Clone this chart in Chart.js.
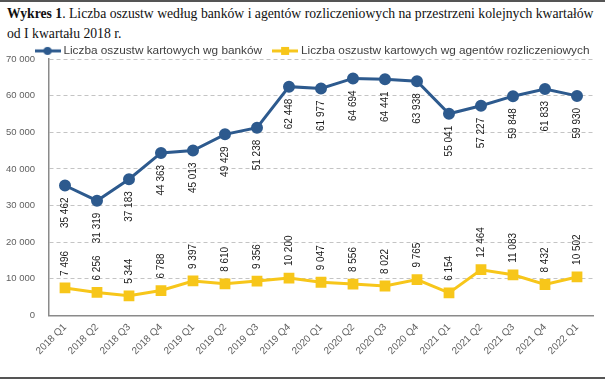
<!DOCTYPE html>
<html lang="pl">
<head>
<meta charset="utf-8">
<script src="https://cdn.jsdelivr.net/npm/chart.js@4.4.0/dist/chart.umd.min.js"></script>
<style>
  html, body { margin: 0; padding: 0; background: #fff; }
  #wrap { position: relative; width: 605px; height: 383px; overflow: hidden; }
  #topLine { position: absolute; left: 0; top: 0; width: 605px; height: 2px; background: #555; }
  #bottomLine { position: absolute; left: 0; top: 377px; width: 605px; height: 2px; background: #555; }
  #title {
    position: absolute; left: 7px; top: 4px; width: 600px; white-space: nowrap;
    font-family: "Liberation Serif", "DejaVu Serif", serif; font-size: 13.7px; line-height: 20px; color: #111;
  }
  #box { position: absolute; left: 0; top: 32px; width: 605px; height: 331px; }
</style>
</head>
<body>
<div id="wrap">
  <div id="topLine"></div>
  <div id="title"><b>Wykres 1</b>. Liczba oszustw według banków i agentów rozliczeniowych na przestrzeni kolejnych kwartałów<br>od I kwartału 2018 r.</div>
  <div id="box"><canvas id="wykres"></canvas></div>
  <div id="bottomLine"></div>
</div>
<script>
// dane
const kwartaly = ['2018 Q1', '2018 Q2', '2018 Q3', '2018 Q4', '2019 Q1', '2019 Q2', '2019 Q3', '2019 Q4',
  '2020 Q1', '2020 Q2', '2020 Q3', '2020 Q4', '2021 Q1', '2021 Q2', '2021 Q3', '2021 Q4', '2022 Q1'];
const banki = [35462, 31319, 37183, 44363, 45013, 49429, 51238, 62448, 61977, 64694, 64441, 63938,
  55041, 57227, 59848, 61833, 59930];
const agenci = [7496, 6256, 5344, 6788, 9397, 8610, 9356, 10200, 9047, 8556, 8022, 9765,
  6154, 12464, 11083, 8432, 10502];

const NIEBIESKI = '#2d5a8e';
const ZOLTY = '#f7c61a';
const CZCIONKA = '"Liberation Sans", Arial, sans-serif';

function formatuj(v) {
  return String(v).replace(/\B(?=(\d{3})+(?!\d))/g, ' ');
}

// ikona legendy: linia z markerem
function ikona(kolor, kwadrat) {
  const c = document.createElement('canvas');
  c.width = 26; c.height = 10;
  const g = c.getContext('2d');
  g.strokeStyle = kolor; g.lineWidth = 3;
  g.beginPath(); g.moveTo(0, 5); g.lineTo(26, 5); g.stroke();
  g.fillStyle = kolor;
  if (kwadrat) {
    g.fillRect(9, 1, 8, 8);
  } else {
    g.beginPath(); g.arc(13, 5, 4, 0, Math.PI * 2); g.fill();
  }
  return c;
}
const ikony = [ikona(NIEBIESKI, false), ikona(ZOLTY, true)];

// etykiety danych obrócone o 90 stopni
const etykiety = {
  id: 'etykiety',
  afterDatasetsDraw(chart) {
    const ctx = chart.ctx;
    ctx.save();
    ctx.font = '10px ' + CZCIONKA;
    ctx.fillStyle = '#1a1a1a';
    ctx.textBaseline = 'middle';
    chart.data.datasets.forEach((ds, i) => {
      const meta = chart.getDatasetMeta(i);
      meta.data.forEach((pt, j) => {
        ctx.save();
        ctx.translate(pt.x, i === 0 ? pt.y + 12 : pt.y - 12);
        ctx.rotate(-Math.PI / 2);
        ctx.textAlign = i === 0 ? 'right' : 'left';
        ctx.fillText(formatuj(ds.data[j]), 0, 0);
        ctx.restore();
      });
    });
    ctx.restore();
  }
};

// legenda: mniejsza wysokość i przesunięcie w prawo
const legendaPoprawka = {
  id: 'legendaPoprawka',
  beforeInit(chart) {
    const fitOrig = chart.legend.fit;
    chart.legend.fit = function() {
      fitOrig.call(this);
      this.height = 27;
    };
  },
  afterLayout(chart) {
    chart.legend.left += 17;
    chart.legend.right += 17;
  }
};

const ctx = document.getElementById('wykres').getContext('2d');
new Chart(ctx, {
  type: 'line',
  data: {
    labels: kwartaly,
    datasets: [
      {
        label: 'Liczba oszustw kartowych wg banków',
        data: banki,
        borderColor: NIEBIESKI,
        backgroundColor: NIEBIESKI,
        borderWidth: 3,
        pointStyle: 'circle',
        pointRadius: 4.5,
        pointHoverRadius: 4.5
      },
      {
        label: 'Liczba oszustw kartowych wg agentów rozliczeniowych',
        data: agenci,
        borderColor: ZOLTY,
        backgroundColor: ZOLTY,
        borderWidth: 3,
        pointStyle: 'rect',
        pointRadius: 5.5,
        pointHoverRadius: 5.5
      }
    ]
  },
  options: {
    responsive: true,
    maintainAspectRatio: false,
    animation: false,
    layout: { padding: { left: 0, right: 12, top: 0, bottom: 0 } },
    plugins: {
      tooltip: { enabled: false },
      legend: {
        position: 'top',
        labels: {
          usePointStyle: true,
          pointStyleWidth: 20,
          padding: 13,
          color: '#404040',
          font: { family: CZCIONKA, size: 11.8 },
          generateLabels(chart) {
            const items = Chart.defaults.plugins.legend.labels.generateLabels(chart);
            items.forEach((it, i) => { it.pointStyle = ikony[i]; });
            return items;
          }
        }
      }
    },
    scales: {
      x: {
        offset: true,
        grid: { display: false, drawTicks: false },
        border: { display: true, color: '#8a8a8a', width: 1.5 },
        ticks: {
          color: '#606060',
          minRotation: 45,
          maxRotation: 45,
          padding: 6,
          font: { family: CZCIONKA, size: 10 }
        }
      },
      y: {
        min: 0,
        max: 70000,
        afterFit(scale) { scale.width = 49; },
        grid: { color: '#c4c4c4', lineWidth: 1, drawTicks: false },
        border: { display: true, color: '#8a8a8a', width: 1.5, dash: [4, 3] },
        ticks: {
          stepSize: 10000,
          padding: 14,
          color: '#606060',
          font: { family: CZCIONKA, size: 9.5 },
          callback: v => formatuj(v)
        }
      }
    }
  },
  plugins: [etykiety, legendaPoprawka]
});
</script>
</body>
</html>
